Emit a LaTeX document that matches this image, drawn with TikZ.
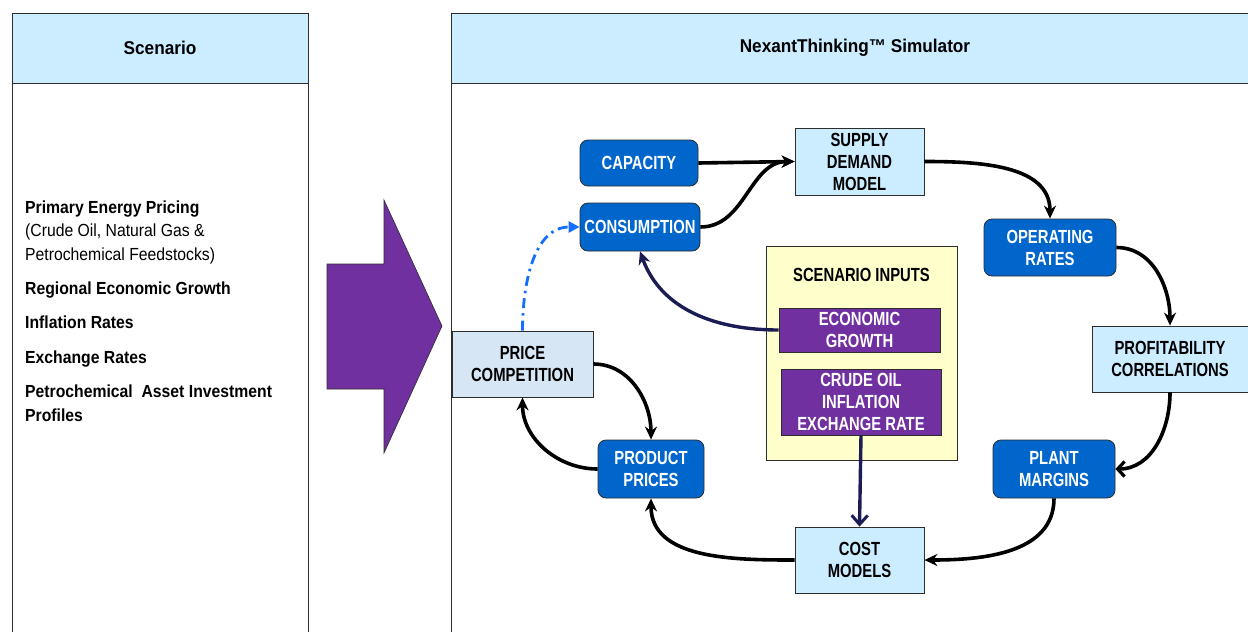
\documentclass[tikz,border=0pt]{standalone}
\usepackage{fontspec}
\setmainfont{Liberation Sans}
\newfontfamily\condfont{Liberation Sans}[FakeStretch=0.78]
\newfontfamily\leftfont{Liberation Sans}[FakeStretch=0.9]
\newfontfamily\hdrfont{Liberation Sans}[FakeStretch=0.93]
\usetikzlibrary{arrows.meta}
\definecolor{hdrblue}{RGB}{204,236,255}
\definecolor{pcblue}{RGB}{214,230,244}
\definecolor{dkblue}{RGB}{0,102,204}
\definecolor{purp}{RGB}{112,48,160}
\definecolor{lyellow}{RGB}{255,255,204}
\definecolor{navy}{RGB}{28,28,84}
\definecolor{dashblue}{RGB}{20,110,255}
\definecolor{edge}{RGB}{45,45,45}
\tikzset{
  panel/.style={draw=edge, line width=1pt},
  hdrtext/.style={font=\hdrfont\fontsize{18.5}{20}\selectfont\bfseries},
  lefttext/.style={anchor=base west, inner sep=0pt, font=\leftfont\fontsize{17.5}{20}\selectfont},
  leftbold/.style={lefttext, font=\leftfont\fontsize{17.5}{20}\selectfont\bfseries},
  boxbase/.style={inner sep=0pt, align=center, font=\condfont\fontsize{19}{22}\selectfont\bfseries},
  darkbox/.style={boxbase, rounded corners=8pt, fill=dkblue, draw=edge, line width=0.8pt, text=white},
  lightbox/.style={boxbase, fill=hdrblue, draw=edge, line width=0.8pt, text=black},
  purpbox/.style={boxbase, fill=purp, draw=edge, line width=0.8pt, text=white},
  conn/.style={line width=3.6pt, black, -{Stealth[length=13pt,width=12pt]}},
  barbconn/.style={line width=3.6pt, black, -{Straight Barb[length=7pt,width=15pt,line width=3.2pt]}},
  navyconn/.style={line width=3.4pt, navy, -{Stealth[length=13pt,width=12pt]}},
  navybarb/.style={line width=3.4pt, navy, -{Straight Barb[length=9pt,width=16pt,line width=3pt]}},
  dashconn/.style={line width=2.8pt, dashblue, dash pattern=on 10pt off 5pt on 2.5pt off 5pt, -{Triangle[length=11pt,width=11pt]}}
}
\begin{document}
\begin{tikzpicture}[x=1pt,y=-1pt]
\clip (0,0) rectangle (1248,632);
\fill[white] (0,0) rectangle (1248,632);

% left panel
\draw[panel] (12,13) rectangle (308,660);
\draw[panel, fill=hdrblue] (12,13) rectangle (308,83);
\node[hdrtext] (scen) at (160,48) {Scenario};

\node[leftbold] (l1) at (25,213) {Primary Energy Pricing};
\node[lefttext] (l2) at (25,236.5) {(Crude Oil, Natural Gas \&};
\node[lefttext] (l3) at (25,260) {Petrochemical Feedstocks)};
\node[leftbold] (l4) at (25,294) {Regional Economic Growth};
\node[leftbold] (l5) at (25,328.5) {Inflation Rates};
\node[leftbold] (l6) at (25,363) {Exchange Rates};
\node[leftbold] (l7) at (25,397.5) {Petrochemical\ \ Asset Investment};
\node[leftbold] (l8) at (25,421) {Profiles};

% big arrow
\draw[fill=purp, draw=edge, line width=0.6pt] (327,264) -- (384,264) -- (384,200) -- (442,326) -- (384,453) -- (384,389) -- (327,389) -- cycle;

% right panel
\draw[panel] (451,13) rectangle (1259,660);
\draw[panel, fill=hdrblue] (451,13) rectangle (1259,83);
\node[hdrtext] (sim) at (855,48) {NexantThinking™ Simulator};

% scenario inputs box
\node[draw=edge, line width=0.8pt, fill=lyellow, minimum width=191pt, minimum height=214pt, inner sep=0pt] (scin) at (861.5,353) {};
\node[boxbase] (scinlab) at (861.5,275) {SCENARIO INPUTS};
\node[purpbox, minimum width=161pt, minimum height=44pt] (econ) at (859.5,330) {ECONOMIC\\GROWTH};
\node[purpbox, minimum width=160pt, minimum height=66pt] (crude) at (861,402) {CRUDE OIL\\INFLATION\\EXCHANGE RATE};

% nodes
\node[darkbox, minimum width=118pt, minimum height=46pt] (cap) at (639,163) {CAPACITY};
\node[darkbox, minimum width=120pt, minimum height=48pt] (cons) at (640,227) {CONSUMPTION};
\node[lightbox, minimum width=129pt, minimum height=67pt] (supply) at (859.5,161.5) {SUPPLY\\DEMAND\\MODEL};
\node[darkbox, minimum width=132pt, minimum height=57pt] (oper) at (1050,247.5) {OPERATING\\RATES};
\node[lightbox, minimum width=156pt, minimum height=66pt] (profit) at (1170,359) {PROFITABILITY\\CORRELATIONS};
\node[darkbox, minimum width=122pt, minimum height=58pt] (plant) at (1054,469) {PLANT\\MARGINS};
\node[lightbox, minimum width=129pt, minimum height=66pt] (cost) at (859.5,560) {COST\\MODELS};
\node[darkbox, minimum width=106pt, minimum height=58pt] (prod) at (651,469) {PRODUCT\\PRICES};
\node[lightbox, fill=pcblue, minimum width=141pt, minimum height=66pt] (pc) at (522.5,364) {PRICE\\COMPETITION};

% connectors
\draw[conn] (cap.east) -- (supply.west);
\draw[conn] (cons.east) to[out=0,in=180] (supply.west);
\draw[conn] (supply.east) to[out=0,in=90] (oper.north);
\draw[conn] (oper.east) to[out=0,in=90] (profit.north);
\draw[barbconn] (profit.south) to[out=-90,in=0] (plant.east);
\draw[conn] (plant.south) to[out=-90,in=0] (cost.east);
\draw[conn] (cost.west) to[out=180,in=-90] (prod.south);
\draw[conn] (prod.west) to[out=180,in=-90] (pc.south);
\draw[conn] (pc.east) to[out=0,in=90] (prod.north);
\draw[dashconn] (pc.north) to[out=90,in=180] (cons.west);
\draw[navyconn] (econ.west) to[out=180,in=-70] (cons.south);
\draw[navybarb] (crude.south) -- (cost.north);
\end{tikzpicture}
\end{document}
